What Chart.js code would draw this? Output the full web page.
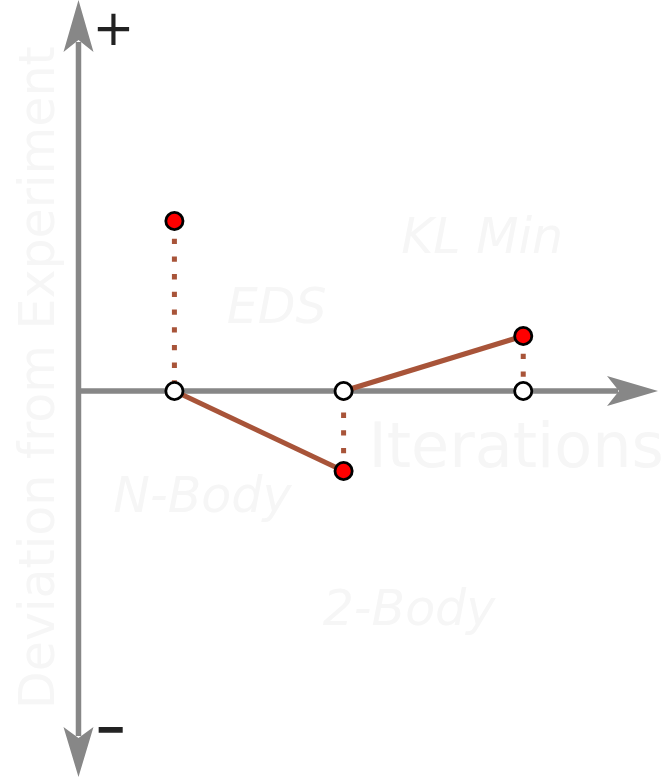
<!DOCTYPE html>
<html>
<head>
<meta charset="utf-8">
<script src="https://cdn.jsdelivr.net/npm/chart.js@4/dist/chart.umd.min.js"></script>
<style>
  html, body { margin: 0; padding: 0; background: #fff; }
  canvas { display: block; }
</style>
</head>
<body>
<canvas id="chart" width="668" height="778"></canvas>
<script>
// iterations along the horizontal axis, deviation from experiment on the vertical one
const iterations = [1, 1.97, 3];
const deviations = [1.7, -0.8, 0.55];

// faint background labels
const regionLabels = ['KL Min', 'EDS', 'N-Body', '2-Body'];
const axisTitles = ['Iterations', 'Deviation from Experiment'];
const signLabels = ['+', '\u2212'];

const LINE_COLOR = '#a85439';
const AXIS_COLOR = '#878787';
const FAINT = '#f6f6f6';
const FONT = '"DejaVu Sans", Verdana, sans-serif';

// where the vertical axis crosses, in iteration units
const originX = 0.45;

// label anchor points in data units (left x, baseline y)
const regionSpots = [
    {x: 2.3, y: 1.38},
    {x: 1.3, y: 0.68},
    {x: 0.65, y: -1.21},
    {x: 1.85, y: -2.34}
];

const axesPlugin = {
    id: 'axes',
    beforeDatasetsDraw(chart) {
        const ctx = chart.ctx;
        const xs = chart.scales.x;
        const ys = chart.scales.y;
        const ox = xs.getPixelForValue(originX);
        const oy = ys.getPixelForValue(0);
        const w = chart.width;
        const h = chart.height;

        ctx.save();

        // faint texts behind everything
        ctx.fillStyle = FAINT;
        ctx.textBaseline = 'alphabetic';
        ctx.textAlign = 'left';
        ctx.font = 'italic 49px ' + FONT;
        regionLabels.forEach(function(label, i) {
            const p = regionSpots[i];
            ctx.fillText(label, xs.getPixelForValue(p.x), ys.getPixelForValue(p.y));
        });

        ctx.font = '62px ' + FONT;
        ctx.fillText(axisTitles[0], ox + 290, oy + 76);

        ctx.save();
        ctx.translate(ox - 24, h - 69);
        ctx.rotate(-Math.PI / 2);
        ctx.font = '49px ' + FONT;
        ctx.fillText(axisTitles[1], 0, 0);
        ctx.restore();

        // axis lines
        ctx.strokeStyle = AXIS_COLOR;
        ctx.lineWidth = 5.5;
        ctx.beginPath();
        ctx.moveTo(ox, 42);
        ctx.lineTo(ox, h - 42);
        ctx.moveTo(ox, oy);
        ctx.lineTo(w - 50, oy);
        ctx.stroke();

        // arrow heads
        ctx.fillStyle = AXIS_COLOR;
        ctx.beginPath();
        ctx.moveTo(ox, 0);
        ctx.lineTo(ox + 15, 52);
        ctx.lineTo(ox, 40);
        ctx.lineTo(ox - 15, 52);
        ctx.closePath();
        ctx.moveTo(ox, h - 1);
        ctx.lineTo(ox + 15, h - 51);
        ctx.lineTo(ox, h - 40);
        ctx.lineTo(ox - 15, h - 51);
        ctx.closePath();
        ctx.moveTo(w - 10, oy);
        ctx.lineTo(w - 61, oy - 15);
        ctx.lineTo(w - 49, oy);
        ctx.lineTo(w - 61, oy + 15);
        ctx.closePath();
        ctx.fill();

        // plus / minus
        ctx.fillStyle = '#222';
        ctx.strokeStyle = '#222';
        ctx.textAlign = 'center';
        ctx.textBaseline = 'middle';
        ctx.font = '50px ' + FONT;
        ctx.fillText(signLabels[0], ox + 35, 32);
        ctx.font = 'bold 36px ' + FONT;
        ctx.lineWidth = 1.5;
        ctx.fillText(signLabels[1], ox + 32, h - 46);
        ctx.strokeText(signLabels[1], ox + 32, h - 46);

        ctx.restore();
    }
};

const datasets = [];

// red deviation points
datasets.push({
    data: iterations.map((x, i) => ({x: x, y: deviations[i]})),
    showLine: false,
    pointRadius: 8.6,
    pointBorderWidth: 2.8,
    pointBackgroundColor: '#ff0000',
    pointBorderColor: '#000',
    order: 0
});

// hollow points on the iteration axis
datasets.push({
    data: iterations.map(x => ({x: x, y: 0})),
    showLine: false,
    pointRadius: 8.6,
    pointBorderWidth: 2.8,
    pointBackgroundColor: '#fff',
    pointBorderColor: '#000',
    order: 1
});

// solid step from each previous iteration to the next deviation
for (let i = 1; i < iterations.length; i++) {
    datasets.push({
        data: [{x: iterations[i - 1], y: 0}, {x: iterations[i], y: deviations[i]}],
        showLine: true,
        borderColor: LINE_COLOR,
        borderWidth: 5,
        pointRadius: 0,
        order: 2
    });
}

// dotted drop lines from each deviation to the axis
iterations.forEach(function(x, i) {
    datasets.push({
        data: [{x: x, y: deviations[i]}, {x: x, y: 0}],
        showLine: true,
        borderColor: LINE_COLOR,
        borderWidth: 5,
        borderDash: [5.3, 12.4],
        borderCapStyle: 'butt',
        pointRadius: 0,
        order: 3
    });
});

new Chart(document.getElementById('chart'), {
    type: 'scatter',
    data: {datasets: datasets},
    options: {
        responsive: false,
        animation: false,
        events: [],
        layout: {padding: 0, autoPadding: false},
        plugins: {
            legend: {display: false},
            tooltip: {enabled: false}
        },
        scales: {
            x: {type: 'linear', display: false, min: 0, max: 3.83},
            y: {type: 'linear', display: false, min: -3.87, max: 3.91}
        }
    },
    plugins: [axesPlugin]
});
</script>
</body>
</html>
